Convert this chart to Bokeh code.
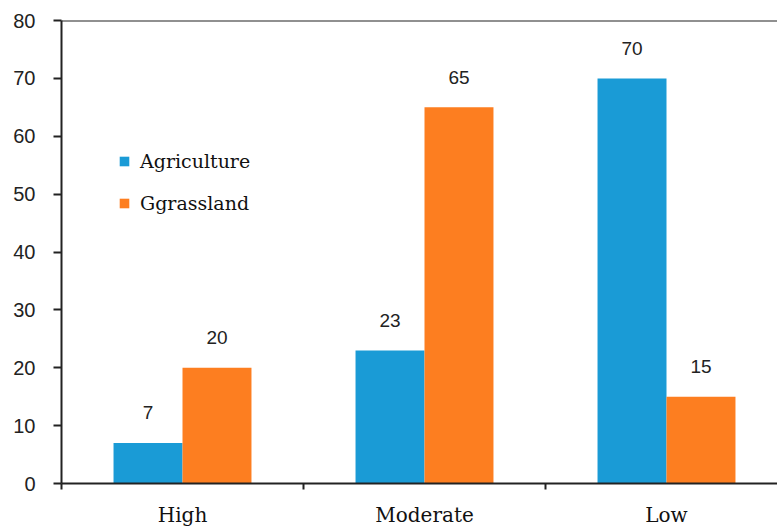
import numpy as np
from bokeh.plotting import figure
from bokeh.models import (ColumnDataSource, Range1d, FixedTicker, Legend, LegendItem, Span)
from bokeh.core.properties import value
from bokeh.embed import file_html
from bokeh.resources import INLINE

categories = ["High", "Moderate", "Low"]
agriculture = [7, 23, 70]
grassland = [20, 65, 15]
series_names = ["Agriculture", "Ggrassland"]
y_ticks = [0, 10, 20, 30, 40, 50, 60, 70, 80]

BLUE = "#1a9bd6"
ORANGE = "#fd7e20"
bw = 0.285

centers = np.arange(len(categories)) + 0.5
src_a = ColumnDataSource(dict(x=centers - bw / 2, top=agriculture, lab=[str(v) for v in agriculture]))
src_g = ColumnDataSource(dict(x=centers + bw / 2, top=grassland, lab=[str(v) for v in grassland]))

p = figure(width=777, height=529, output_backend="svg", toolbar_location=None,
           x_range=Range1d(0, 716 / 242), y_range=Range1d(0, 80),
           min_border_left=61, min_border_top=20, min_border_bottom=45, min_border_right=0)
p.outline_line_color = None
p.xgrid.visible = False
p.ygrid.visible = False
p.background_fill_color = "white"
p.border_fill_color = "white"

ra = p.vbar(x="x", top="top", width=bw, bottom=0, source=src_a, fill_color=BLUE, line_color=None)
rg = p.vbar(x="x", top="top", width=bw, bottom=0, source=src_g, fill_color=ORANGE, line_color=None)

for src in (src_a, src_g):
    p.text(x="x", y="top", text="lab", source=src, y_offset=-30, text_align="center",
           text_baseline="middle", text_font=value("Liberation Sans"), text_font_size="19px",
           text_color="#222222")

# top border line
p.add_layout(Span(location=80, dimension="width", line_color="#222222", line_width=2))

# y axis
ya = p.yaxis[0]
ya.ticker = FixedTicker(ticks=y_ticks, minor_ticks=[])
ya.axis_line_color = "#222222"
ya.axis_line_width = 2
ya.major_tick_line_color = "#222222"
ya.major_tick_line_width = 2
ya.major_tick_in = 0
ya.major_tick_out = 8
ya.major_label_standoff = 18
ya.major_label_text_font = "Liberation Sans"
ya.major_label_text_font_size = "20px"
ya.major_label_text_color = "#222222"

# x axis
xa = p.xaxis[0]
xa.ticker = FixedTicker(ticks=list(centers), minor_ticks=list(range(len(categories) + 1)))
xa.major_label_overrides = {float(c): name for c, name in zip(centers, categories)}
xa.axis_line_color = "#222222"
xa.axis_line_width = 2
xa.major_tick_line_color = None
xa.major_tick_out = 0
xa.major_tick_in = 0
xa.minor_tick_line_color = "#222222"
xa.minor_tick_line_width = 2
xa.minor_tick_in = 0
xa.minor_tick_out = 6
xa.major_label_standoff = 13
xa.major_label_text_font = "DejaVu Serif"
xa.major_label_text_font_size = "20px"
xa.major_label_text_color = "#111111"

legend = Legend(items=[LegendItem(label=series_names[0], renderers=[ra]),
                       LegendItem(label=series_names[1], renderers=[rg])],
                location=(57, 269), orientation="vertical")
legend.glyph_width = 12
legend.glyph_height = 12
legend.label_standoff = 10
legend.spacing = 20
legend.padding = 0
legend.margin = 0
legend.border_line_color = None
legend.background_fill_alpha = 0
legend.label_text_font = "DejaVu Serif"
legend.label_text_font_size = "19px"
legend.label_text_color = "#111111"
p.add_layout(legend, "center")

open("out.html", "w").write(file_html(p, INLINE))
